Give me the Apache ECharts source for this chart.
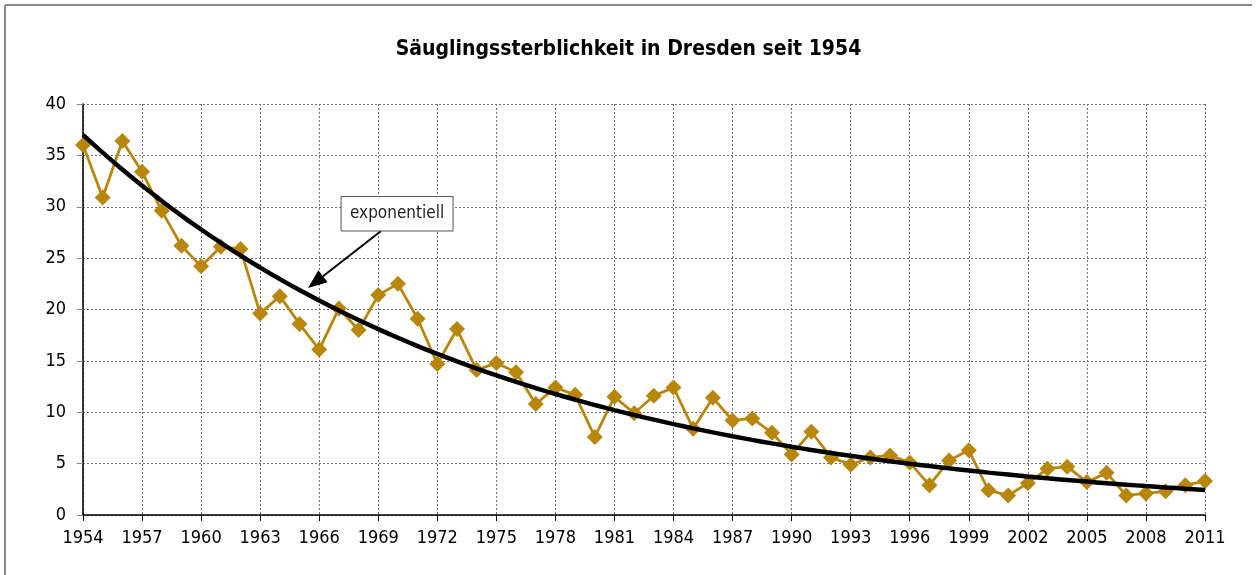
<!DOCTYPE html>
<html>
<head>
<meta charset="utf-8">
<script src="https://cdn.jsdelivr.net/npm/echarts@6/dist/echarts.min.js"></script>
<style>
html,body{margin:0;padding:0;background:#fff;}
#c{width:1257px;height:575px;}
</style>
</head>
<body>
<div id="c"></div>
<script>
const years = [];
for (let y = 1954; y <= 2011; y++) years.push(String(y));

const mortality = [
  36.0, 30.9, 36.4, 33.4, 29.6, 26.2, 24.2, 26.1, 25.9, 19.6,
  21.3, 18.6, 16.1, 20.1, 18.0, 21.4, 22.5, 19.1, 14.7, 18.1,
  14.1, 14.8, 13.9, 10.8, 12.4, 11.7, 7.6, 11.5, 9.9, 11.6,
  12.4, 8.4, 11.4, 9.2, 9.4, 8.0, 5.9, 8.1, 5.6, 4.9,
  5.6, 5.8, 5.1, 2.9, 5.3, 6.3, 2.4, 1.9, 3.1, 4.5,
  4.7, 3.2, 4.1, 1.9, 2.1, 2.3, 2.9, 3.3
];

const yTicks = [0, 5, 10, 15, 20, 25, 30, 35, 40];
const titleText = 'Säuglingssterblichkeit in Dresden seit 1954';
const trendLabel = 'exponentiell';

// Exponential trendline (least squares on ln(y)), as a spreadsheet does
function expFit(vals) {
  const n = vals.length;
  let sx = 0, sy = 0, sxx = 0, sxy = 0;
  vals.forEach((v, i) => { const ly = Math.log(v); sx += i; sy += ly; sxx += i * i; sxy += i * ly; });
  const b = (n * sxy - sx * sy) / (n * sxx - sx * sx);
  const a = (sy - b * sx) / n;
  return vals.map((v, i) => Math.exp(a + b * i));
}
const trend = expFit(mortality);

const FONT = '"Liberation Sans Narrow", "Arial Narrow", "DejaVu Sans Condensed", sans-serif';
const gridLine = { show: true, lineStyle: { color: '#707070', width: 1, type: [2, 2] } };

const chart = echarts.init(document.getElementById('c'), null, { renderer: 'canvas' });
chart.setOption({
  animation: false,
  backgroundColor: '#fff',
  title: {
    text: titleText,
    left: 'center',
    top: 34,
    textStyle: { fontFamily: FONT, fontSize: 21, fontWeight: 'bold', color: '#000' }
  },
  grid: { left: 83, right: 52, top: 104, bottom: 60, outerBoundsMode: 'none' },
  xAxis: {
    type: 'category',
    data: years,
    boundaryGap: false,
    axisLine: { lineStyle: { color: '#000', width: 1.5 } },
    axisTick: { show: true, interval: 2, length: 6, lineStyle: { color: '#000' } },
    axisLabel: { interval: 2, margin: 14, fontFamily: FONT, fontSize: 18, color: '#000' },
    splitLine: Object.assign({ interval: 2 }, gridLine)
  },
  yAxis: {
    type: 'value',
    min: 0, max: 40, interval: 5,
    axisLine: { show: true, lineStyle: { color: '#000', width: 1.5 } },
    axisTick: { show: true, length: 6, lineStyle: { color: '#888' } },
    axisLabel: { margin: 17, fontFamily: FONT, fontSize: 18, color: '#000',
      formatter: v => yTicks.includes(v) ? String(v) : '' },
    splitLine: gridLine
  },
  series: [
    {
      name: 'Säuglingssterblichkeit',
      type: 'line',
      data: mortality,
      symbol: 'diamond',
      symbolSize: 16,
      showAllSymbol: true,
      lineStyle: { color: '#B8860B', width: 2.8 },
      itemStyle: { color: '#B8860B' },
      z: 3
    },
    {
      name: trendLabel,
      type: 'line',
      data: trend,
      symbol: 'none',
      smooth: true,
      lineStyle: { color: '#000', width: 4.5 },
      z: 4
    }
  ]
});

// Annotation box and arrow, anchored in data space (fractional category index)
const annot = { boxL: [13.11, 31.0], boxR: [18.8, 27.64], from: [15.14, 27.64], to: [11.43, 22.1] };
function P(p) {
  const i0 = Math.floor(p[0]), fr = p[0] - i0;
  const a = chart.convertToPixel({ gridIndex: 0 }, [i0, p[1]]);
  const b = chart.convertToPixel({ gridIndex: 0 }, [i0 + 1, p[1]]);
  return [a[0] + (b[0] - a[0]) * fr, a[1]];
}
const bl = P(annot.boxL), br = P(annot.boxR), f = P(annot.from), t = P(annot.to);
const ang = Math.atan2(t[1] - f[1], t[0] - f[0]);
const hl = 19, hw = 7.5;
const bx = t[0] - hl * Math.cos(ang), by = t[1] - hl * Math.sin(ang);
const head = [
  [t[0], t[1]],
  [bx + hw * Math.sin(ang), by - hw * Math.cos(ang)],
  [bx - hw * Math.sin(ang), by + hw * Math.cos(ang)]
];
chart.setOption({
  graphic: [
    { type: 'line', shape: { x1: 5, y1: 5, x2: 1252, y2: 5 }, style: { stroke: '#8a8a8a', lineWidth: 2 } },
    { type: 'line', shape: { x1: 5, y1: 5, x2: 5, y2: 575 }, style: { stroke: '#8a8a8a', lineWidth: 2 } },
    { type: 'line', shape: { x1: f[0], y1: f[1], x2: bx, y2: by }, style: { stroke: '#000', lineWidth: 2 }, z: 10 },
    { type: 'polygon', shape: { points: head }, style: { fill: '#000' }, z: 10 },
    { type: 'rect', shape: { x: bl[0], y: bl[1], width: br[0] - bl[0], height: br[1] - bl[1] },
      style: { fill: '#fff', stroke: '#555', lineWidth: 1 }, z: 10 },
    { type: 'text', x: (bl[0] + br[0]) / 2, y: (bl[1] + br[1]) / 2, z: 11,
      style: { text: trendLabel, fontFamily: FONT, fontSize: 17, fill: '#222', align: 'center', verticalAlign: 'middle' } }
  ]
});
</script>
</body>
</html>
